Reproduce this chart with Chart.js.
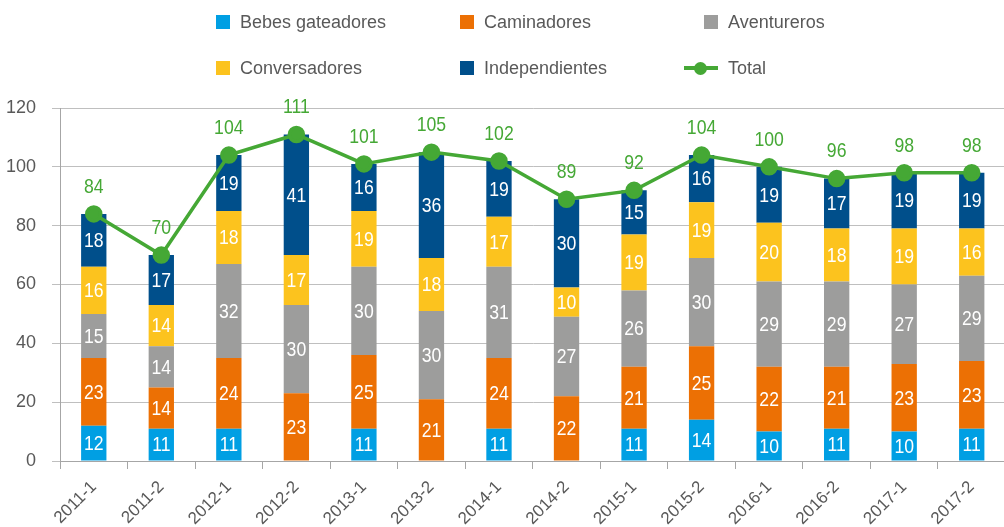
<!DOCTYPE html>
<html>
<head>
<meta charset="utf-8">
<script src="https://cdn.jsdelivr.net/npm/chart.js@4/dist/chart.umd.min.js"></script>
<style>
  html, body { margin: 0; padding: 0; background: #fff; overflow: hidden; }
  #wrap { position: relative; width: 1004px; height: 527px; overflow: hidden; }
  canvas { position: absolute; left: 0; top: 0; }
  .lg { position: absolute; font-family: "Liberation Sans", Arial, sans-serif; font-size: 18px; color: #595959; line-height: 20px; white-space: nowrap; }
  .bx { position: absolute; width: 14px; height: 14px; }
</style>
</head>
<body>
<div id="wrap">
  <canvas id="c" width="1016" height="527"></canvas>
  <div id="legend"></div>
</div>
<script>
const categories = ["2011-1","2011-2","2012-1","2012-2","2013-1","2013-2","2014-1","2014-2","2015-1","2015-2","2016-1","2016-2","2017-1","2017-2"];
const bebes         = [12, 11, 11,  0, 11,  0, 11,  0, 11, 14, 10, 11, 10, 11];
const caminadores   = [23, 14, 24, 23, 25, 21, 24, 22, 21, 25, 22, 21, 23, 23];
const aventureros   = [15, 14, 32, 30, 30, 30, 31, 27, 26, 30, 29, 29, 27, 29];
const conversadores = [16, 14, 18, 17, 19, 18, 17, 10, 19, 19, 20, 18, 19, 16];
const independientes= [18, 17, 19, 41, 16, 36, 19, 30, 15, 16, 19, 17, 19, 19];
const total         = [84, 70, 104, 111, 101, 105, 102, 89, 92, 104, 100, 96, 98, 98];
const yTicks = [0, 20, 40, 60, 80, 100, 120];

const seriesNames = ["Bebes gateadores","Caminadores","Aventureros","Conversadores","Independientes","Total"];
const colors = ["#009fe3","#ec7004","#9d9d9c","#fcc31e","#004f8b","#45a835"];
const FONT = '"Liberation Sans", Arial, sans-serif';

// HTML legend
const legendPos = [[216,15],[460,15],[704,15],[216,61],[460,61],[704,61]];
const lg = document.getElementById('legend');
seriesNames.forEach((n, i) => {
  const [x, y] = legendPos[i];
  if (i < 5) {
    const b = document.createElement('div');
    b.className = 'bx'; b.style.left = x + 'px'; b.style.top = y + 'px'; b.style.background = colors[i];
    lg.appendChild(b);
  } else {
    const l = document.createElement('div');
    l.style.cssText = `position:absolute;left:${x-20}px;top:${y+5}px;width:34px;height:4px;background:${colors[i]}`;
    lg.appendChild(l);
    const d = document.createElement('div');
    d.style.cssText = `position:absolute;left:${x-10}px;top:${y+1}px;width:13px;height:13px;border-radius:7px;background:${colors[i]}`;
    lg.appendChild(d);
  }
  const t = document.createElement('div');
  t.className = 'lg'; t.style.left = (x + 24) + 'px'; t.style.top = (y - 3) + 'px'; t.textContent = n;
  lg.appendChild(t);
});

function narrowText(ctx, s, x, y) {
  ctx.save();
  ctx.translate(x, y);
  ctx.scale(0.84, 1);
  ctx.fillText(s, 0, 0);
  ctx.restore();
}

const labelPlugin = {
  id: 'labels',
  afterDatasetsDraw(chart) {
    const ctx = chart.ctx;
    ctx.save();
    ctx.textAlign = 'center';
    ctx.textBaseline = 'middle';
    ctx.font = '21px ' + FONT;
    chart.data.datasets.forEach((ds, i) => {
      const meta = chart.getDatasetMeta(i);
      meta.data.forEach((el, j) => {
        const v = ds.data[j];
        if (!v) return;
        if (ds.type === 'line') {
          ctx.fillStyle = colors[5];
          narrowText(ctx, String(v), el.x, el.y - 27);
        } else {
          ctx.fillStyle = '#ffffff';
          narrowText(ctx, String(v), el.x, (el.y + el.base) / 2 + 1);
        }
      });
    });
    ctx.restore();
  }
};

const barSets = [bebes, caminadores, aventureros, conversadores, independientes];
const datasets = barSets.map((d, i) => ({
  type: 'bar', label: seriesNames[i], data: d, backgroundColor: colors[i],
  stack: 's', barPercentage: 0.75, categoryPercentage: 0.5, order: 2
}));
datasets.push({
  type: 'line', label: 'Total', data: total, borderColor: colors[5], backgroundColor: colors[5],
  borderWidth: 3.5, pointRadius: 7, pointHoverRadius: 7, tension: 0, order: 1
});

new Chart(document.getElementById('c'), {
  type: 'bar',
  data: { labels: categories, datasets },
  options: {
    responsive: false,
    animation: false,
    devicePixelRatio: 1,
    layout: { padding: { top: 108, right: 4, left: 0, bottom: 0 } },
    plugins: { legend: { display: false }, tooltip: { enabled: false } },
    scales: {
      x: {
        stacked: true,
        grid: { display: true, drawOnChartArea: false, drawTicks: true, tickLength: 8, color: '#a6a6a6', offset: true },
        border: { display: true, color: '#a6a6a6' },
        ticks: { color: '#595959', font: { family: FONT, size: 17 }, minRotation: 45, maxRotation: 45, padding: 8 },
        afterFit(s) { s.height = 66; }
      },
      y: {
        stacked: true,
        min: 0, max: 120,
        afterBuildTicks(s) { s.ticks = yTicks.map(v => ({ value: v })); },
        grid: { color: '#bfbfbf', lineWidth: 1, drawTicks: true, tickLength: 8 },
        border: { display: true, color: '#a6a6a6' },
        ticks: { color: '#595959', font: { family: FONT, size: 18 }, padding: 16 },
        afterFit(s) { s.width = 60; }
      }
    }
  },
  plugins: [labelPlugin]
});
</script>
</body>
</html>
